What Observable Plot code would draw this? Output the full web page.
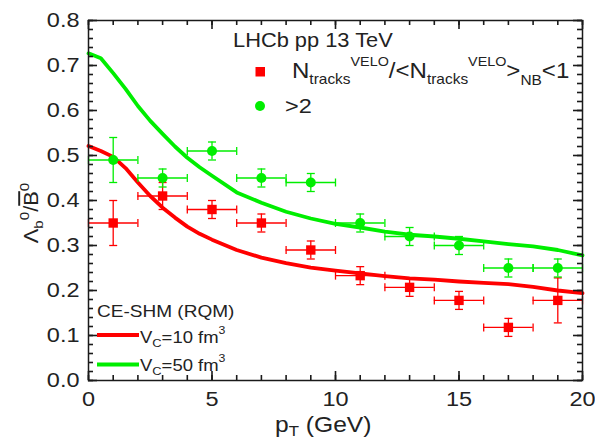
<!DOCTYPE html>
<html><head><meta charset="utf-8">
<script src="https://cdn.jsdelivr.net/npm/d3@7"></script>
<script src="https://cdn.jsdelivr.net/npm/@observablehq/plot@0.6"></script>
<style>
html,body{margin:0;padding:0;background:#fff;}
#chart{width:595px;height:440px;}
</style></head><body><div id="chart"></div>
<script>
// ---- data ----
const pT = [1, 3, 5, 7, 9, 11, 13, 15, 17, 19];
const pTerr = [1, 1, 1, 1, 1, 1, 1, 1, 1, 1];
const lowY = [0.35, 0.41, 0.38, 0.35, 0.29, 0.233, 0.207, 0.178, 0.118, 0.178];
const lowErr = [0.05, 0.03, 0.02, 0.02, 0.02, 0.02, 0.02, 0.02, 0.02, 0.05];
const highY = [0.49, 0.45, 0.51, 0.45, 0.44, 0.35, 0.32, 0.30, 0.25, 0.25];
const highErr = [0.05, 0.02, 0.02, 0.02, 0.02, 0.02, 0.02, 0.02, 0.02, 0.02];

const curveX = [0, 0.5, 1, 1.5, 2, 2.5, 3, 3.5, 4, 4.5, 5, 6, 7, 8, 9, 10, 11, 12, 13, 14, 15, 16, 17, 18, 19, 20];
const vc10Y = [0.521, 0.51, 0.497, 0.472, 0.44, 0.41, 0.384, 0.362, 0.342, 0.326, 0.313, 0.29, 0.273, 0.261, 0.251, 0.244, 0.238, 0.232, 0.227, 0.224, 0.22, 0.217, 0.214, 0.208, 0.2, 0.194];
const vc50Y = [0.727, 0.716, 0.683, 0.648, 0.61, 0.577, 0.548, 0.52, 0.495, 0.474, 0.455, 0.418, 0.395, 0.375, 0.36, 0.348, 0.34, 0.331, 0.324, 0.32, 0.315, 0.309, 0.303, 0.298, 0.29, 0.278];

const xMajor = [0, 5, 10, 15, 20];
const xMinor = d3.range(0, 21, 1);
const yMajor = [0, 0.1, 0.2, 0.3, 0.4, 0.5, 0.6, 0.7, 0.8];
const yMinor = d3.range(0, 41).map(i => i / 50);

// ---- style ----
const RED = "#ff0000", GREEN = "#00ee00", INK = "#222", AXIS = "#1a1a1a";
const FONT = "'Liberation Sans', Arial, Helvetica, sans-serif";
const STRETCH = 1.12;
const W = 595, H = 440, ML = 88, MR = 13, MT = 20, MB = 60;
const IW = W - ML - MR, IH = H - MT - MB;
const X0 = 0, X1 = 20, Y0 = 0, Y1 = 0.8;
const pxX = (X1 - X0) / IW, pxY = (Y1 - Y0) / IH;   // data units per pixel

const lowPts = pT.map((x, i) => ({x, y: lowY[i], ey: lowErr[i], ex: pTerr[i]}));
const highPts = pT.map((x, i) => ({x, y: highY[i], ey: highErr[i], ex: pTerr[i]}));
const vc10 = curveX.map((x, i) => ({x, y: vc10Y[i]}));
const vc50 = curveX.map((x, i) => ({x, y: vc50Y[i]}));

const capH = {draw(ctx, size) { const r = Math.sqrt(size / Math.PI); ctx.moveTo(-r, 0); ctx.lineTo(r, 0); }};
const capV = {draw(ctx, size) { const r = Math.sqrt(size / Math.PI); ctx.moveTo(0, -r); ctx.lineTo(0, r); }};

function errMarks(pts, color) {
  const o = {stroke: color, strokeWidth: 1.3};
  const c = {stroke: color, strokeWidth: 1.3, fill: "none", r: 4};
  return [
    Plot.ruleY(pts, {y: "y", x1: d => d.x - d.ex, x2: d => d.x + d.ex, ...o}),
    Plot.ruleX(pts, {x: "x", y1: d => d.y - d.ey, y2: d => d.y + d.ey, ...o}),
    Plot.dot(pts, {x: d => d.x - d.ex, y: "y", symbol: capV, ...c}),
    Plot.dot(pts, {x: d => d.x + d.ex, y: "y", symbol: capV, ...c}),
    Plot.dot(pts, {x: "x", y: d => d.y - d.ey, symbol: capH, ...c}),
    Plot.dot(pts, {x: "x", y: d => d.y + d.ey, symbol: capH, ...c})
  ];
}

// inward ticks on all four sides, placed through the x / y scales
const tkStyle = {stroke: AXIS, strokeWidth: 1.6};
const tickMarks = [];
for (const [vals, len] of [[xMinor, 5], [xMajor, 9]]) {
  tickMarks.push(Plot.ruleX(vals, {x: d => d, y1: Y0, y2: Y0 + len * pxY, ...tkStyle}));
  tickMarks.push(Plot.ruleX(vals, {x: d => d, y1: Y1, y2: Y1 - len * pxY, ...tkStyle}));
}
for (const [vals, len] of [[yMinor, 5], [yMajor, 9]]) {
  tickMarks.push(Plot.ruleY(vals, {y: d => d, x1: X0, x2: X0 + len * pxX, ...tkStyle}));
  tickMarks.push(Plot.ruleY(vals, {y: d => d, x1: X1, x2: X1 - len * pxX, ...tkStyle}));
}

const chart = Plot.plot({
  width: W, height: H,
  marginLeft: ML, marginRight: MR, marginTop: MT, marginBottom: MB,
  x: {domain: [X0, X1]},
  y: {domain: [Y0, Y1]},
  style: {fontFamily: FONT, color: INK, background: "white", overflow: "visible"},
  marks: [
    Plot.axisX({anchor: "bottom", ticks: xMajor, tickSize: 0, tickPadding: 11, fontSize: 21, label: null, tickFormat: d3.format("d")}),
    Plot.axisY({anchor: "left", ticks: yMajor, tickSize: 0, tickPadding: 9, fontSize: 21, label: null, tickFormat: d3.format(".1f")}),
    Plot.line(vc10, {x: "x", y: "y", stroke: RED, strokeWidth: 3.8}),
    Plot.line(vc50, {x: "x", y: "y", stroke: GREEN, strokeWidth: 3.8}),
    ...errMarks(lowPts, RED),
    ...errMarks(highPts, GREEN),
    Plot.dot(lowPts, {x: "x", y: "y", symbol: "square", r: 5.3, fill: RED}),
    Plot.dot(highPts, {x: "x", y: "y", symbol: "circle", r: 5, fill: GREEN}),
    ...tickMarks,
    Plot.frame({stroke: AXIS, strokeWidth: 1.5})
  ]
});
document.getElementById("chart").appendChild(chart);

// ---- annotations ----
const svg = d3.select(chart);
const ann = svg.append("g").attr("font-family", FONT).attr("fill", INK)
  .attr("text-anchor", "start").style("white-space", "pre");

function rich(x, y, parts, attrs = {}) {
  const t = ann.append("text").attr("x", x).attr("y", y);
  for (const k in attrs) t.attr(k, attrs[k]);
  let cur = 0;
  for (const p of parts) {
    const sh = p.shift || 0;
    const ts = t.append("tspan").attr("font-size", p.size).attr("dy", sh - cur).text(p.t);
    if (p.over) ts.style("text-decoration", "overline");
    cur = sh;
  }
  return t;
}

// top-right legend
rich(233, 47, [{t: "LHCb pp 13 TeV", size: 19.5}]);
ann.append("rect").attr("x", 255.5).attr("y", 67).attr("width", 9.5).attr("height", 9.5).attr("fill", RED);
rich(292, 78, [
  {t: "N", size: 21.5}, {t: "tracks", size: 13.8, shift: 6}, {t: "VELO", size: 12.8, shift: -12},
  {t: "/<N", size: 21.5}, {t: "tracks", size: 13.8, shift: 6}, {t: "VELO", size: 12.8, shift: -12},
  {t: ">", size: 21.5}, {t: "NB", size: 13.8, shift: 7}, {t: "<1", size: 21.5}
]);
ann.append("circle").attr("cx", 260).attr("cy", 106).attr("r", 5).attr("fill", GREEN);
rich(285, 113, [{t: ">2", size: 21}]);

// bottom-left legend
rich(97, 317, [{t: "CE-SHM (RQM)", size: 17}]);
ann.append("line").attr("x1", 97).attr("x2", 139).attr("y1", 335).attr("y2", 335).attr("stroke", RED).attr("stroke-width", 4);
rich(140, 343, [{t: "V", size: 16.5}, {t: "C", size: 11.5, shift: 4}, {t: "=10 fm", size: 16.5}, {t: "3", size: 11, shift: -9}]);
ann.append("line").attr("x1", 97).attr("x2", 139).attr("y1", 364.5).attr("y2", 364.5).attr("stroke", GREEN).attr("stroke-width", 4);
rich(140, 371.5, [{t: "V", size: 16.5}, {t: "C", size: 11.5, shift: 4}, {t: "=50 fm", size: 16.5}, {t: "3", size: 11, shift: -9}]);

// axis titles
rich(275, 432, [{t: "p", size: 22}, {t: "T", size: 15, shift: 4}, {t: " (GeV)", size: 22}]);
rich(0, 0, [
  {t: "Λ", size: 19.5}, {t: "b", size: 13.5, shift: 5}, {t: "0", size: 13.5, shift: -9},
  {t: "/", size: 19.5}, {t: "B", size: 19.5, over: true}, {t: "0", size: 13.5, shift: -9}
], {"text-anchor": "middle", transform: "translate(38,213) rotate(-90)"});

// horizontal widening of glyphs to match the reference's wide sans face
chart.querySelectorAll("text").forEach(t => {
  const bb = t.getBBox();
  const anchor = getComputedStyle(t).textAnchor;
  const ax = anchor === "end" ? bb.x + bb.width : anchor === "middle" ? bb.x + bb.width / 2 : bb.x;
  const prev = t.getAttribute("transform") || "";
  t.setAttribute("transform", `${prev} translate(${ax},0) scale(${STRETCH},1) translate(${-ax},0)`);
});
</script></body></html>
